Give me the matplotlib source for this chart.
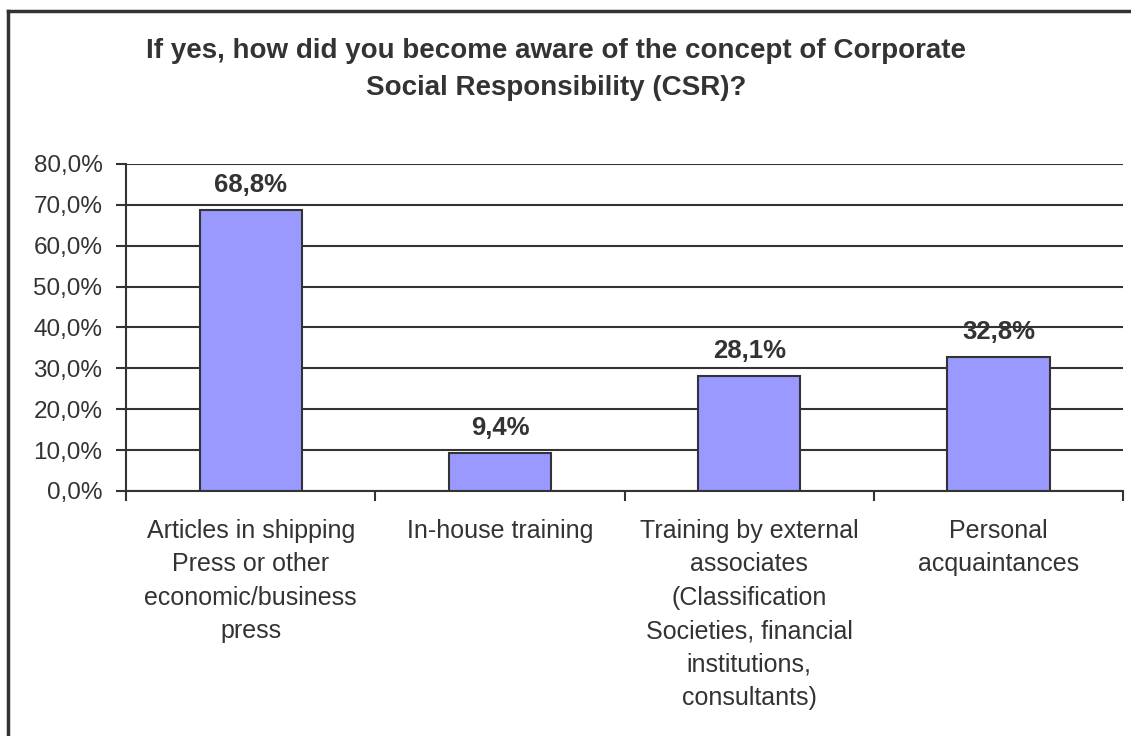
import matplotlib.pyplot as plt
from matplotlib.ticker import FuncFormatter, FixedLocator

plt.rcParams['font.family'] = ['Liberation Sans', 'DejaVu Sans']

# Data
categories = [
    "Articles in shipping\nPress or other\neconomic/business\npress",
    "In-house training",
    "Training by external\nassociates\n(Classification\nSocieties, financial\ninstitutions,\nconsultants)",
    "Personal\nacquaintances",
]
values = [68.8, 9.4, 28.1, 32.8]
value_labels = ["68,8%", "9,4%", "28,1%", "32,8%"]
y_ticks = [0, 10, 20, 30, 40, 50, 60, 70, 80]

title = ("If yes, how did you become aware of the concept of Corporate\n"
         "Social Responsibility (CSR)?")

dark = "#333333"
bar_color = "#9999FF"

fig = plt.figure(figsize=(11.31, 7.36), dpi=100)
ax = fig.add_axes([0.1114, 0.3329, 0.8816, 0.4443])

x = list(range(len(categories)))
ax.bar(x, values, width=0.41, color=bar_color, edgecolor=dark, linewidth=1.5, zorder=3)

for xi, v, lab in zip(x, values, value_labels):
    ax.annotate(lab, (xi, v), xytext=(0, 18), textcoords="offset points",
                ha="center", va="center", fontsize=18.5, fontweight="bold",
                color=dark, zorder=4)

ax.set_xlim(-0.5, len(categories) - 0.5)
ax.set_ylim(0, 80)
ax.set_yticks(y_ticks)
ax.yaxis.set_major_formatter(FuncFormatter(lambda v, p: f"{v:.1f}%".replace(".", ",")))
ax.grid(axis="y", color=dark, linewidth=1.5, zorder=0)

ax.set_xticks(x)
ax.set_xticklabels(categories, fontsize=18, color=dark, linespacing=1.5)
ax.xaxis.set_minor_locator(FixedLocator([i - 0.5 for i in range(len(categories) + 1)]))
ax.tick_params(axis="x", which="major", length=0, pad=20)
ax.tick_params(axis="x", which="minor", length=7, width=1.5, color=dark)
ax.tick_params(axis="y", length=7, width=1.5, color=dark, labelsize=17.5,
               labelcolor=dark, pad=10)

for side in ["top", "right"]:
    ax.spines[side].set_visible(False)
for side in ["left", "bottom"]:
    ax.spines[side].set_color(dark)
    ax.spines[side].set_linewidth(1.5)

fig.text(0.4916, 0.9055, title, ha="center", va="center", fontsize=20,
         fontweight="bold", color=dark, linespacing=1.55)

# outer chart frame (only top and left edges visible in the crop)
fig.add_artist(plt.Line2D([0.0075, 1.0], [0.9855, 0.9855], color=dark, linewidth=2.5,
                          transform=fig.transFigure))
fig.add_artist(plt.Line2D([0.0075, 0.0075], [0.0, 0.9855], color=dark, linewidth=2.5,
                          transform=fig.transFigure))

fig.savefig("out.png", dpi=100)
